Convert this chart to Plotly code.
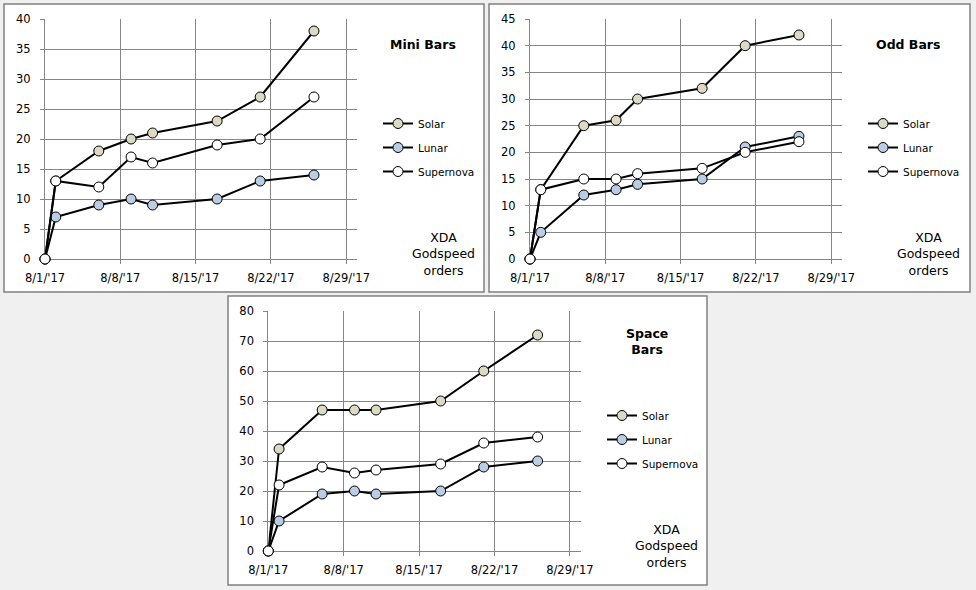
import plotly.graph_objects as go

dates = ["2017-08-01", "2017-08-02", "2017-08-06", "2017-08-09",
         "2017-08-11", "2017-08-17", "2017-08-21", "2017-08-26"]

series_names = ["Solar", "Lunar", "Supernova"]
series_colors = ["#ddd9c3", "#b9cde5", "#ffffff"]

mini_solar = [0, 13, 18, 20, 21, 23, 27, 38]
mini_lunar = [0, 7, 9, 10, 9, 10, 13, 14]
mini_supernova = [0, 13, 12, 17, 16, 19, 20, 27]

odd_solar = [0, 13, 25, 26, 30, 32, 40, 42]
odd_lunar = [0, 5, 12, 13, 14, 15, 21, 23]
odd_supernova = [0, 13, 15, 15, 16, 17, 20, 22]

space_solar = [0, 34, 47, 47, 47, 50, 60, 72]
space_lunar = [0, 10, 19, 20, 19, 20, 28, 30]
space_supernova = [0, 22, 28, 26, 27, 29, 36, 38]

x_tickvals = ["2017-08-01", "2017-08-08", "2017-08-15", "2017-08-22", "2017-08-29"]
x_ticktext = ["8/1/'17", "8/8/'17", "8/15/'17", "8/22/'17", "8/29/'17"]

panel_titles = ["Mini Bars", "Odd Bars", "Space<br>Bars"]
side_note = "XDA<br>Godspeed<br>orders"

W, H = 976, 590
FONT = "DejaVu Sans"
GRID = "#868686"


def px(x):
    return x / W


def py(y):
    return 1 - y / H


panels = [
    dict(data=[mini_solar, mini_lunar, mini_supernova], ymax=40, dtick=5,
         xdom=[px(45), px(357)], ydom=[py(259), py(19)],
         box=(4, 4, 484, 292), title_xy=(423, 44), note_xy=(443, 254),
         legend_xy=(378, 109)),
    dict(data=[odd_solar, odd_lunar, odd_supernova], ymax=45, dtick=5,
         xdom=[px(530), px(842)], ydom=[py(259), py(19)],
         box=(489, 4, 970, 292), title_xy=(908, 44), note_xy=(928, 254),
         legend_xy=(863, 109)),
    dict(data=[space_solar, space_lunar, space_supernova], ymax=80, dtick=10,
         xdom=[px(268.3), px(580.7)], ydom=[py(551), py(311)],
         box=(228, 296, 707, 585), title_xy=(647, 341), note_xy=(666, 546),
         legend_xy=(602, 401)),
]

fig = go.Figure()
layout = dict(
    width=W, height=H, margin=dict(l=0, r=0, t=0, b=0, autoexpand=False),
    paper_bgcolor="#f0f0f0", plot_bgcolor="rgba(0,0,0,0)",
    font=dict(family=FONT, size=11.5, color="#000000"),
    shapes=[], annotations=[],
)

for i, p in enumerate(panels):
    k = "" if i == 0 else str(i + 1)
    xa, ya = "x" + k, "y" + k
    leg = "legend" + k
    for j, name in enumerate(series_names):
        fig.add_trace(go.Scatter(
            x=dates, y=p["data"][j], name=name, mode="lines+markers",
            line=dict(color="#000000", width=2),
            marker=dict(size=10, color=series_colors[j],
                        line=dict(color="#000000", width=1)),
            xaxis=xa, yaxis=ya, legend=leg, legendgroup=f"g{i}{j}",
            showlegend=True, cliponaxis=False,
        ))
    layout["xaxis" + k] = dict(
        domain=p["xdom"], anchor=ya, type="date",
        range=["2017-08-01", "2017-08-30"],
        tickvals=x_tickvals, ticktext=x_ticktext,
        showgrid=True, gridcolor=GRID, gridwidth=1,
        showline=True, linecolor=GRID, linewidth=1,
        ticks="outside", ticklen=4, tickcolor=GRID, ticklabelstandoff=4,
        zeroline=False, fixedrange=True, automargin=False,
        layer="below traces",
        tickfont=dict(family=FONT, size=11.5, color="#000000"),
    )
    layout["yaxis" + k] = dict(
        domain=p["ydom"], anchor=xa, range=[0, p["ymax"]], dtick=p["dtick"],
        showgrid=True, gridcolor=GRID, gridwidth=1,
        showline=True, linecolor=GRID, linewidth=1,
        ticks="outside", ticklen=4, tickcolor=GRID, ticklabelstandoff=7,
        zeroline=False, fixedrange=True, automargin=False,
        layer="below traces",
        tickfont=dict(family=FONT, size=11.5, color="#000000"),
    )
    lx, ly = p["legend_xy"]
    layout[leg] = dict(
        x=px(lx), y=py(ly), xanchor="left", yanchor="top",
        bgcolor="rgba(0,0,0,0)", borderwidth=0, itemwidth=30,
        tracegroupgap=5, font=dict(family=FONT, size=10.5, color="#000000"),
        itemclick=False, itemdoubleclick=False,
    )
    x0, y0, x1, y1 = p["box"]
    layout["shapes"].append(dict(
        type="rect", xref="paper", yref="paper",
        x0=px(x0), x1=px(x1), y0=py(y1), y1=py(y0),
        fillcolor="#ffffff", line=dict(color="#808080", width=1.5),
        layer="below",
    ))
    tx, ty = p["title_xy"]
    layout["annotations"].append(dict(
        text="<b>" + panel_titles[i] + "</b>", xref="paper", yref="paper",
        x=px(tx), y=py(ty), xanchor="center", yanchor="middle",
        showarrow=False, font=dict(family=FONT, size=12.5, color="#000000"),
    ))
    nx, ny = p["note_xy"]
    layout["annotations"].append(dict(
        text=side_note, xref="paper", yref="paper",
        x=px(nx), y=py(ny), xanchor="center", yanchor="middle",
        showarrow=False, font=dict(family=FONT, size=12.5, color="#000000"),
    ))

fig.update_layout(**layout)
fig.write_html(
    "out.html",
    config={"displayModeBar": False},
    post_script="document.body.style.margin='0';document.body.style.overflow='hidden';",
)
